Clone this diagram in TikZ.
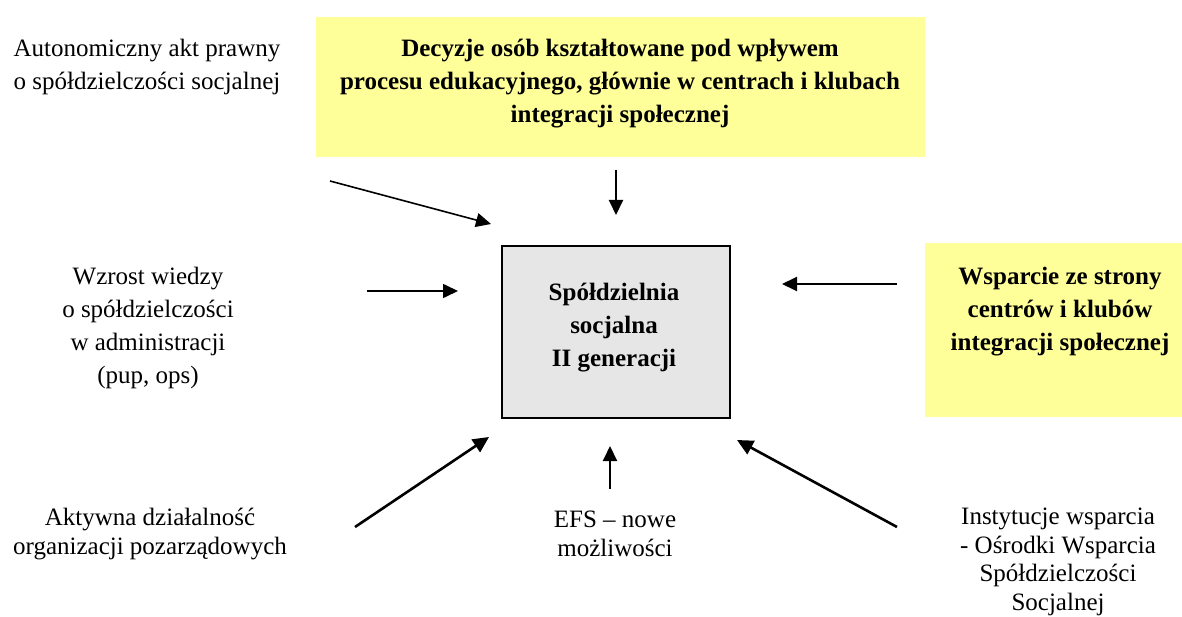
\documentclass[tikz,border=0pt]{standalone}
\usepackage{fontspec}
\setmainfont{Liberation Serif}
\usetikzlibrary{arrows.meta}
\definecolor{paleyellow}{HTML}{FFFF99}
\definecolor{boxgray}{HTML}{E6E6E6}
\tikzset{
  lbl/.style={align=center, inner sep=0pt, font=\fontsize{25}{33}\selectfont},
  lowlbl/.style={align=center, inner sep=0pt, font=\fontsize{25}{28.5}\selectfont},
  blbl/.style={align=center, inner sep=0pt, font=\fontsize{25}{33}\selectfont\bfseries},
  arr/.style={-{Triangle[length=15pt,width=14pt]}, line width=2pt},
  thinarr/.style={-{Triangle[length=15pt,width=14pt]}, line width=1.6pt},
  thickarr/.style={-{Triangle[length=16pt,width=15pt]}, line width=2.6pt},
}
\begin{document}
\begin{tikzpicture}[x=1pt,y=-1pt]
\useasboundingbox (0,0) rectangle (1182,617);
% boxes
\node[fill=paleyellow, minimum width=609pt, minimum height=140pt, inner sep=0pt, anchor=north west] (topbox) at (316,17) {};
\node[blbl] (toptext) at (620,84) {Decyzje osób kształtowane pod wpływem\\procesu edukacyjnego, głównie w centrach i klubach\\integracji społecznej};
\node[fill=boxgray, draw=black, line width=2pt, minimum width=228pt, minimum height=172pt, inner sep=0pt, anchor=north west] (center) at (501,245) {};
\node[blbl] (centertext) at (614,328) {Spółdzielnia\\socjalna\\II generacji};
\node[fill=paleyellow, minimum width=257pt, minimum height=174pt, inner sep=0pt, anchor=north west] (rightbox) at (925,243) {};
\node[blbl] (righttext) at (1060,312) {Wsparcie ze strony\\centrów i klubów\\integracji społecznej};
% plain labels
\node[lbl] (akt) at (147,67) {Autonomiczny akt prawny\\o spółdzielczości socjalnej};
\node[lbl] (wiedza) at (148,328) {Wzrost wiedzy\\o spółdzielczości\\w administracji\\(pup, ops)};
\node[lowlbl] (ngo) at (150,534) {Aktywna działalność\\organizacji pozarządowych};
\node[lowlbl] (efs) at (615,534) {EFS – nowe\\możliwości};
\node[lowlbl] (inst) at (1058,562) {Instytucje wsparcia\\- Ośrodki Wsparcia\\Spółdzielczości\\Socjalnej};
% arrow end points
\coordinate (a1s) at (330,181); \coordinate (a1e) at (491,224);
\coordinate (a2s) at (616,170); \coordinate (a2e) at (616,215);
\coordinate (a3s) at (367,291); \coordinate (a3e) at (458,291);
\coordinate (a4s) at (897,284); \coordinate (a4e) at (782,284);
\coordinate (a5s) at (355,527); \coordinate (a5e) at (489,437);
\coordinate (a6s) at (610,489); \coordinate (a6e) at (610,446);
\coordinate (a7s) at (897,527); \coordinate (a7e) at (737,440);
\draw[thinarr] (a1s) -- (a1e);
\draw[arr] (a2s) -- (a2e);
\draw[thinarr] (a3s) -- (a3e);
\draw[arr] (a4s) -- (a4e);
\draw[thickarr] (a5s) -- (a5e);
\draw[arr] (a6s) -- (a6e);
\draw[thickarr] (a7s) -- (a7e);
\end{tikzpicture}
\end{document}
